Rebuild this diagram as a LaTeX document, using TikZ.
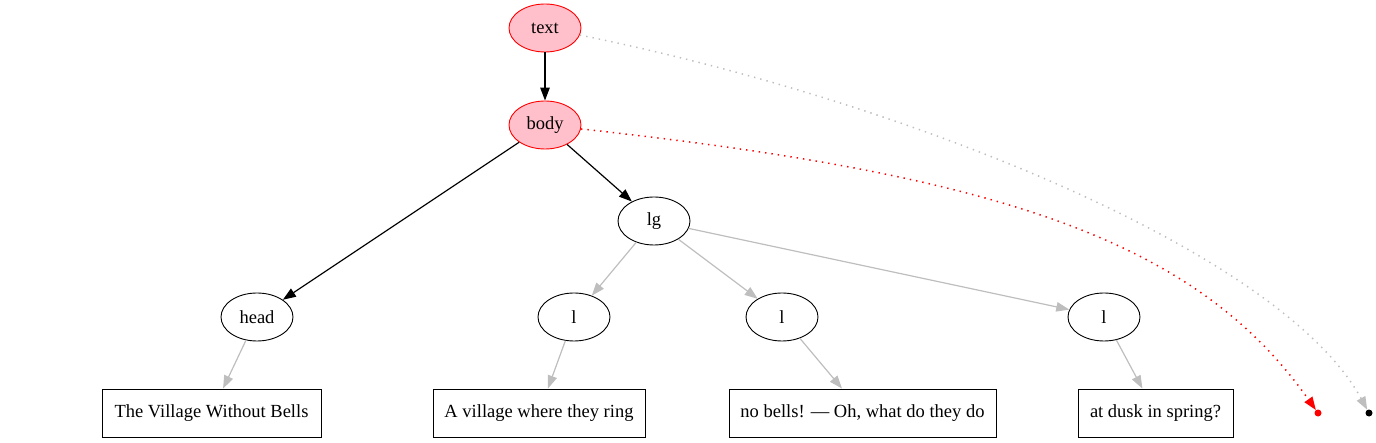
\documentclass[tikz,border=0pt]{standalone}
\usepackage{fontspec}
\setmainfont{Liberation Serif}
\usetikzlibrary{arrows.meta,shapes.geometric}
\definecolor{edgegray}{RGB}{190,190,190}
\definecolor{pinkfill}{RGB}{255,192,203}
\tikzset{
  ell/.style={draw=black, ellipse, line width=0.9pt, minimum width=72pt, minimum height=48pt, inner sep=0pt, font=\fontsize{18.5}{22}\selectfont},
  hl/.style={ell, draw=red, fill=pinkfill},
  txtbox/.style={draw=black, rectangle, line width=0.9pt, minimum height=48pt, inner sep=0pt, font=\fontsize{18.5}{22}\selectfont},
  dotnode/.style={circle, inner sep=0pt, minimum size=7pt},
  blk/.style={draw=black, line width=1.2pt, -{Triangle[length=13pt,width=9.5pt]}},
  gry/.style={draw=edgegray, line width=1.2pt, -{Triangle[length=13pt,width=9.5pt]}},
  dotline/.style={line width=1.5pt, dash pattern=on 1.4pt off 5pt, -{Triangle[length=13pt,width=9.5pt]}},
}
\begin{document}
\begin{tikzpicture}[x=1pt,y=-1pt]
\useasboundingbox (0,0) rectangle (1376,443);
\node[hl] (text) at (545,28) {text};
\node[hl] (body) at (545,125) {body};
\node[ell] (lg) at (654,221) {lg};
\node[ell] (head) at (257,317) {head};
\node[ell] (l1) at (574,317) {l};
\node[ell] (l2) at (782,317) {l};
\node[ell] (l3) at (1104,317) {l};
\node[txtbox, minimum width=219pt] (b0) at (211.5,413) {The Village Without Bells};
\node[txtbox, minimum width=212pt] (b1) at (539,413) {A village where they ring};
\node[txtbox, minimum width=267pt] (b2) at (862.5,413) {no bells! — Oh, what do they do};
\node[txtbox, minimum width=155pt] (b3) at (1155.5,413) {at dusk in spring?};
\node[dotnode, fill=red] (rdot) at (1318,413) {};
\node[dotnode, fill=black] (kdot) at (1369,413) {};

\draw[blk] (text) -- (body);
\draw[blk] (body) -- (head);
\draw[blk] (body) -- (lg);
\draw[gry] (lg) -- (l1);
\draw[gry] (lg) -- (l2);
\draw[gry] (lg) -- (l3);
\draw[gry] (head) -- (b0);
\draw[gry] (l1) -- (b1);
\draw[gry] (l2) -- (b2);
\draw[gry] (l3) -- (b3);
\draw[dotline, draw=red] (body) .. controls (1000,175) and (1196,240) .. (rdot);
\draw[dotline, draw=edgegray] (text) .. controls (900,100) and (1280,250) .. (kdot);
\end{tikzpicture}
\end{document}
